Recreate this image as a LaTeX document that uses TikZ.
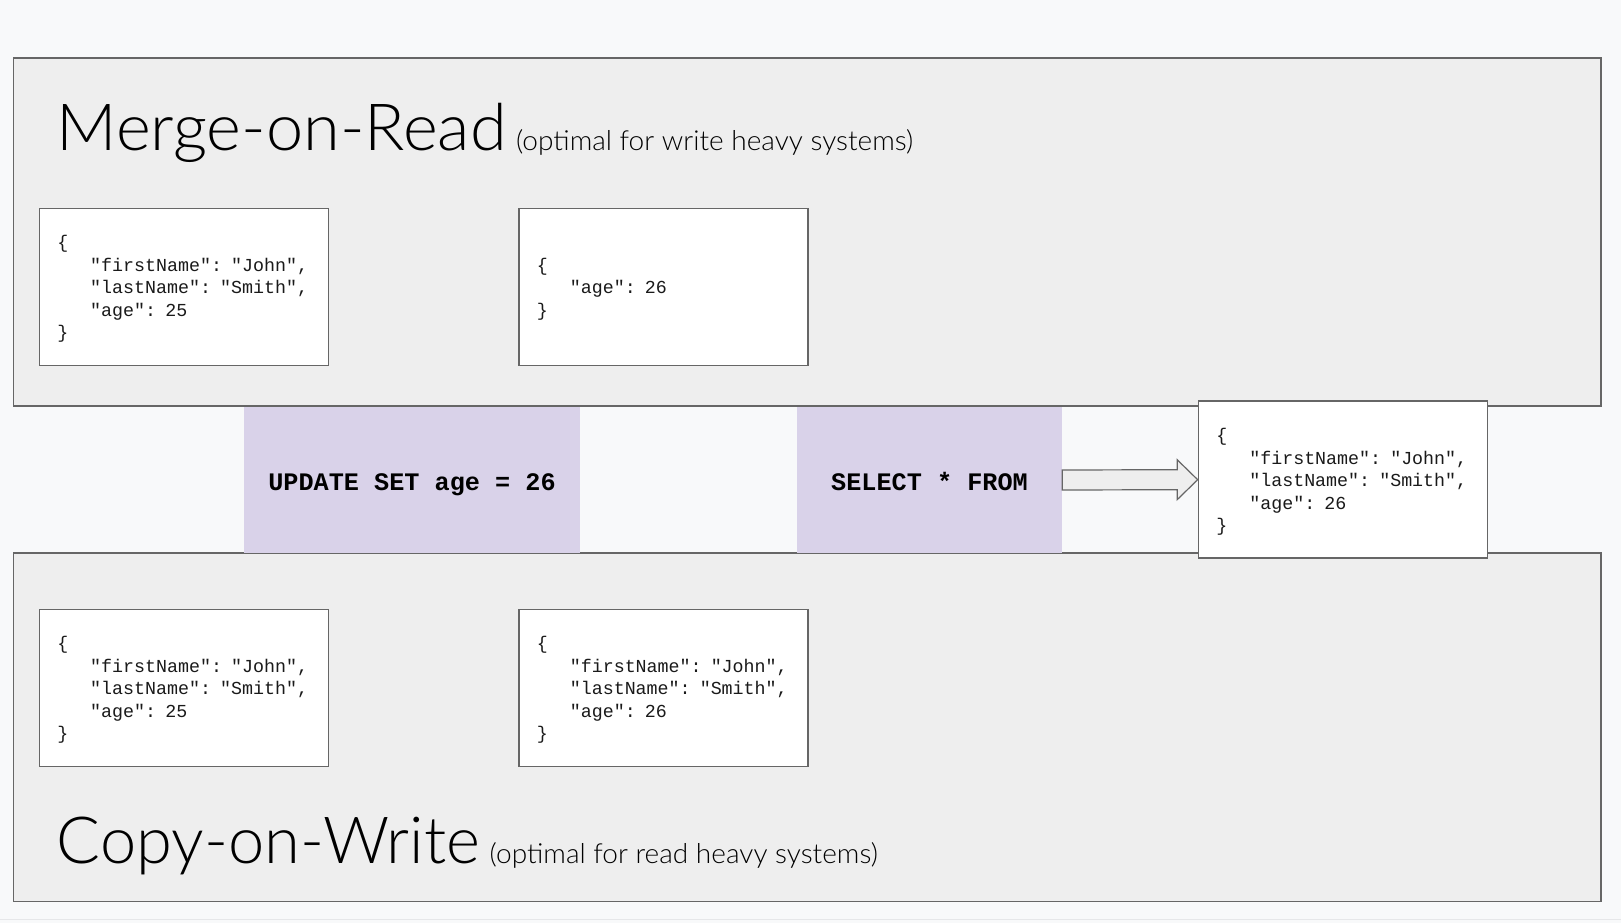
\documentclass[tikz,border=0pt]{standalone}
\usepackage{fontspec}
\usetikzlibrary{calc}
\newfontfamily\titlefontA{Lato Light}[FakeStretch=1.025]
\newfontfamily\titlefontB{Lato Light}
\newfontfamily\subfont{Lato Light}[FakeStretch=1.02]
\newfontfamily\codefont{Liberation Mono}
\definecolor{bgc}{HTML}{F8F9FA}
\definecolor{panelc}{HTML}{EEEEEE}
\definecolor{edgec}{HTML}{666666}
\definecolor{purplec}{HTML}{D9D2E9}
\definecolor{codec}{HTML}{1A1A1A}
\definecolor{faint}{HTML}{E6E7E9}
\tikzset{
  panel/.style={draw=edgec, line width=1.6pt, fill=panelc, minimum width=1587.5pt, minimum height=348.5pt, inner sep=0pt},
  codebox/.style={draw=edgec, line width=1.5pt, fill=white, minimum height=157pt,
    text width=253pt, inner xsep=18pt, inner ysep=0pt, align=left,
    font=\codefont\fontsize{18.3}{22.5}\selectfont, text=codec},
  sqlbox/.style={fill=purplec, minimum height=146pt, inner sep=0pt, text height=20pt, text depth=0pt,
    font=\codefont\bfseries\fontsize{25.2}{30}\selectfont, text=black},
  titleA/.style={anchor=base west, inner sep=0pt, font=\titlefontA\fontsize{65}{65}\selectfont, text=black},
  titleB/.style={anchor=base west, inner sep=0pt, font=\titlefontB\fontsize{65}{65}\selectfont, text=black},
  subtitle/.style={anchor=base west, inner sep=0pt, font=\subfont\fontsize{27.5}{28}\selectfont, text=black},
  arrowshape/.style={draw=edgec, line width=1.2pt, fill=panelc, line join=miter}
}
\newcommand{\ind}{\phantom{xxx}}
\newcommand{\topstrut}{\rule{0pt}{17.5pt}}
\begin{document}
\begin{tikzpicture}[x=1pt,y=-1pt]
\fill[bgc] (0,0) rectangle (1621,923);
\useasboundingbox (0,0) rectangle (1621,923);
\draw[faint, line width=1.5pt] (0,919.5) -- (1621,919.5);
% panels
\node[panel] (mor) at (807.25,232) {};
\node[panel] (cow) at (807.25,727.3) {};
% titles
\node[titleA] (mortitle) at (56.5,150.5) {Merge-on-Read};
\node[subtitle] (morsub) at ($(mortitle.base east)+(9,0)$) {(optimal for write heavy systems)};
\node[titleB] (cowtitle) at (56.5,863) {Copy-on-Write};
\node[subtitle] (cowsub) at ($(cowtitle.base east)+(9,0)$) {(optimal for read heavy systems)};
% MoR boxes
\node[codebox] (m1) at (183.8,286.8) {\topstrut\{\\\ind"firstName": "John",\\\ind"lastName": "Smith",\\\ind"age": 25\\\}};
\node[codebox] (m2) at (663.4,286.8) {\topstrut\{\\\ind"age": 26\\\}};
% CoW boxes
\node[codebox] (c1) at (183.8,687.8) {\topstrut\{\\\ind"firstName": "John",\\\ind"lastName": "Smith",\\\ind"age": 25\\\}};
\node[codebox] (c2) at (663.4,687.8) {\topstrut\{\\\ind"firstName": "John",\\\ind"lastName": "Smith",\\\ind"age": 26\\\}};
% SQL boxes
\node[sqlbox, minimum width=336pt] (upd) at (412,480) {UPDATE SET age = 26};
\node[sqlbox, minimum width=265pt] (sel) at (929.5,480) {SELECT * FROM};
% result
\node[codebox] (res) at (1342.9,479.7) {\topstrut\{\\\ind"firstName": "John",\\\ind"lastName": "Smith",\\\ind"age": 26\\\}};
% block arrow
\draw[arrowshape] ($(sel.east)+(0,-10)$) -- ($(res.west)+(-20.5,-10)$) -- ($(res.west)+(-20.5,-20)$) -- (res.west) -- ($(res.west)+(-20.5,20)$) -- ($(res.west)+(-20.5,10)$) -- ($(sel.east)+(0,10)$) -- cycle;
\end{tikzpicture}
\end{document}
